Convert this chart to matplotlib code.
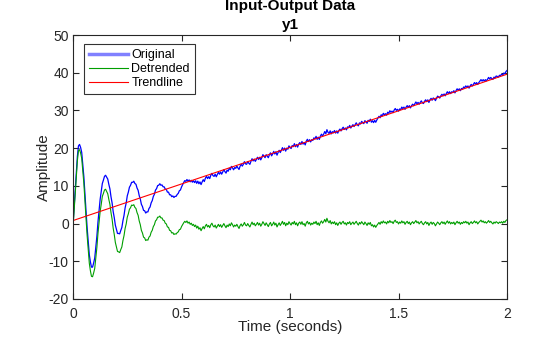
import numpy as np
import matplotlib.pyplot as plt
from matplotlib.lines import Line2D

plt.rcParams['font.family'] = ['Liberation Sans', 'DejaVu Sans']
plt.rcParams['axes.unicode_minus'] = False

# detrended output y1, sampled every 5 ms from 0 to 2 s
dt = 0.005
detrended = [
    # 0.000 - 0.500 s: decaying oscillation
    -1.0, 3.5, 8.2, 12.9, 16.6, 19.3, 19.6, 18.7, 17.3, 14.0,
    10.6, 5.8, 1.3, -3.2, -6.9, -10.5, -12.5, -14.0, -14.1, -13.1,
    -11.9, -9.0, -6.3, -2.6, 0.2, 3.2, 5.1, 7.2, 8.0, 8.9,
    9.1, 8.5, 7.9, 6.4, 5.1, 2.9, 1.2, -1.2, -2.9, -5.0,
    -6.2, -7.4, -7.5, -7.7, -6.9, -6.2, -4.5, -3.2, -1.3, -0.1,
    1.7, 2.6, 3.8, 4.2, 4.9, 4.8, 5.0, 4.3, 4.0, 2.9,
    2.2, 0.7, -0.3, -1.8, -2.5, -3.6, -3.8, -4.5, -4.3, -4.4,
    -3.6, -3.3, -2.3, -1.8, -0.8, -0.3, 0.7, 1.0, 1.7, 1.7,
    2.0, 1.5, 1.5, 0.9, 0.8, 0.1, -0.1, -0.9, -1.0, -1.8,
    -1.9, -2.5, -2.4, -2.9, -2.7, -2.8, -2.4, -2.2, -1.6, -1.5,
    -0.8,
    # 0.505 - 2.000 s: residual noise
    -0.3, 0.2, 0.6, 0.3, 0.7, 0.1, 0.4, -0.2, 0.1, -0.5,
    -0.2, -0.8, -0.4, -1.2, -0.7, -1.5, -1.1, -1.9, -1.3, -0.8,
    -1.4, -0.6, -0.2, -0.9, -0.5, -1.1, -0.3, 0.1, -0.6, -0.9,
    -0.4, -1.2, -0.7, -0.2, -0.8, -0.3, -1.0, -0.5, 0.0, -0.6,
    -1.1, -0.4, -0.8, -0.1, -0.6, 0.2, -0.3, -0.9, -0.4, -0.7,
    -0.2, -0.8, -1.3, -0.5, -0.1, -0.7, -0.3, 0.3, -0.4, -0.6,
    0.0, -0.5, -0.9, -0.2, 0.4, -0.3, 0.1, -0.6, -0.2, 0.3,
    -0.4, 0.1, -0.7, -0.2, 0.5, 0.0, -0.5, 0.2, -0.3, -0.8,
    -0.1, 0.3, -0.6, -0.2, 0.4, -0.4, 0.1, -0.9, -0.3, 0.2,
    -0.5, 0.0, 0.6, -0.2, 0.3, -0.6, 0.1, -0.3, 0.5, 0.0,
    -0.4, 0.3, -0.1, 0.6, -0.3, 0.2, -0.6, 0.1, 0.4, -0.2,
    0.5, -0.3, 0.0, -0.7, 0.2, 0.6, -0.1, 0.3, -0.4, 0.1,
    -0.2, 0.4, 0.0, 0.6, -0.3, 0.2, -0.5, 0.3, 0.7, 0.1,
    0.5, 1.1, 0.4, 1.4, 0.6, 0.2, 0.8, -0.1, 0.4, 0.0,
    0.5, -0.3, 0.2, -0.5, 0.1, 0.4, -0.2, 0.3, 0.6, -0.1,
    0.2, -0.4, 0.3, 0.0, 0.5, -0.3, 0.1, 0.4, -0.2, 0.2,
    0.6, 0.0, -0.4, 0.3, -0.1, 0.5, 0.1, -0.3, 0.4, 0.0,
    -0.5, 0.2, -0.2, 0.3, -0.6, -0.3, -0.9, -0.4, -1.0, -0.5,
    -0.1, 0.3, -0.2, 0.5, 0.1, 0.7, 0.2, 0.4, -0.1, 0.6,
    0.2, 0.8, 0.3, 0.5, 0.0, 0.6, 0.9, 0.3, 0.5, -0.1,
    0.4, 0.1, 0.7, 0.2, 0.5, -0.2, 0.3, 0.6, 0.0, 0.4,
    -0.3, 0.2, 0.5, 0.0, 0.4, 0.8, 0.2, 0.5, -0.1, 0.3,
    0.6, 0.0, -0.3, 0.2, 0.5, -0.1, 0.3, -0.5, 0.1, 0.4,
    -0.2, 0.3, 0.0, -0.6, -0.1, 0.4, 0.1, -0.3, 0.2, 0.5,
    0.0, 0.4, -0.2, 0.3, 0.7, 0.1, 0.5, -0.1, 0.3, 0.0,
    0.4, -0.3, 0.2, 0.6, 0.1, 0.4, -0.2, 0.3, 0.0, 0.5,
    0.2, 0.6, 0.1, 0.4, -0.3, 0.2, 0.5, 0.0, 0.3, 0.7,
    0.2, 0.5, -0.1, 0.3, 0.6, 0.9, 0.4, 0.7, 0.2, 0.5,
    0.1, 0.4, 0.8, 0.3, 0.6, 0.2, -0.1, 0.4, 0.1, 0.5,
    0.3, 0.0, 0.4, 0.2, 0.5, 0.1, 0.6, 0.3, 0.8, 1.0,
]
# linear trend removed from the raw output
trend_t = [0.0, 2.0]
trend_v = [0.8, 39.6]

t = np.arange(len(detrended)) * dt
trend = np.interp(t, trend_t, trend_v)
original = np.array(detrended) + trend

fig = plt.figure(figsize=(5.6, 3.37), dpi=100)
ax = fig.add_axes([0.1304, 0.1128, 0.775, 0.7833])

blue = (0, 0, 1)
green = (0, 0.62, 0)
red = (1, 0, 0)
ax.plot(t, original, color=blue, lw=0.9)
ax.plot(t, detrended, color=green, lw=0.8)
ax.plot(trend_t, trend_v, color=red, lw=0.8)

ax.set_xlim(0, 2)
ax.set_ylim(-20, 50)
ax.set_xticks([0, 0.5, 1, 1.5, 2])
ax.set_xticklabels(['0', '0.5', '1', '1.5', '2'])
ax.set_yticks(range(-20, 51, 10))

axc = (0.15, 0.15, 0.15)
for s in ax.spines.values():
    s.set_color(axc)
    s.set_linewidth(0.8)
ax.tick_params(direction='in', top=True, right=True, length=4, width=0.8,
               colors=axc, labelsize=10, pad=3)
ax.tick_params(axis='x', pad=6)

ax.set_xlabel('Time (seconds)', fontsize=11, color=axc, labelpad=-1)
ax.set_ylabel('Amplitude', fontsize=11, color=axc, labelpad=-2)
ax.set_title('y1', fontsize=11, fontweight='bold', color=(0, 0, 0), pad=4)
fig.text(0.518, 0.982, 'Input-Output Data', ha='center', va='center',
         fontsize=11, fontweight='bold')

handles = [
    Line2D([], [], color=(0.5, 0.5, 1), lw=2.5),
    Line2D([], [], color=green, lw=0.8),
    Line2D([], [], color=red, lw=0.8),
]
leg = ax.legend(handles, ['Original', 'Detrended', 'Trendline'],
                loc='upper left', bbox_to_anchor=(0.025, 0.965),
                fontsize=9, frameon=True, fancybox=False,
                handlelength=3.1, handletextpad=0.3, labelspacing=0.15,
                borderpad=0.4, borderaxespad=0)
leg.get_frame().set_edgecolor('black')
leg.get_frame().set_linewidth(0.8)

fig.savefig('out.png', dpi=100)
